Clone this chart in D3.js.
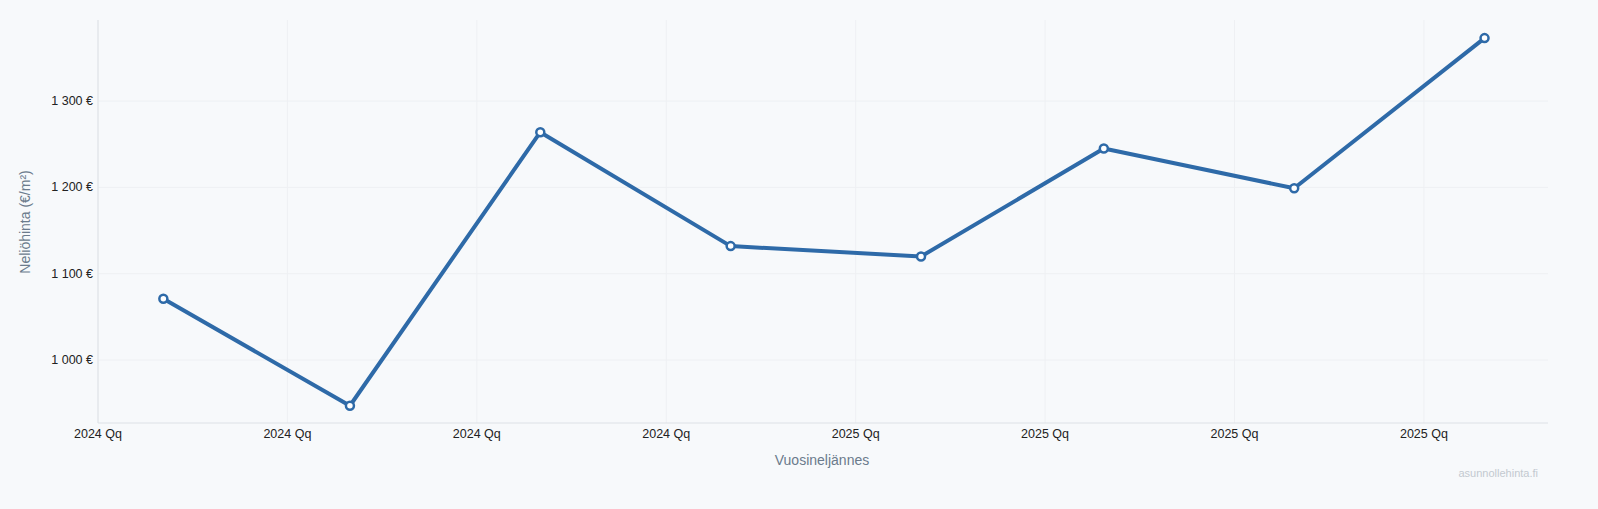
<!DOCTYPE html><html><head><meta charset="utf-8">
<script src="https://cdn.jsdelivr.net/npm/d3@7"></script>
<style>html,body{margin:0;overflow:hidden;background:#f7f9fb;font-family:"Liberation Sans",Arial,sans-serif}svg{display:block}</style></head><body>
<svg id="c" width="1598" height="509"></svg>
<script>
const tickLabels=["2024 Qq","2024 Qq","2024 Qq","2024 Qq","2025 Qq","2025 Qq","2025 Qq","2025 Qq"];
const pointPos=[0.345,1.33,2.335,3.34,4.345,5.31,6.315,7.32];
const values=[1071,947,1264,1132,1120,1245,1199,1373];
const yTicks=[1000,1100,1200,1300];
const svg=d3.select("#c");
svg.append("rect").attr("width",1598).attr("height",509).attr("fill","#f7f9fb");
const L=98,R=1548,T=20,B=423;
const x=d3.scaleLinear().domain([0,7.655]).range([L,R]);
const y=d3.scaleLinear().domain([927,1394]).range([B,T]);
const g=svg.append("g");
g.selectAll(".gy").data(yTicks).join("line").attr("x1",L).attr("x2",R).attr("y1",d=>y(d)).attr("y2",d=>y(d)).attr("stroke","#eef0f3");
g.selectAll(".gx").data(d3.range(8)).join("line").attr("x1",d=>x(d)).attr("x2",d=>x(d)).attr("y1",T).attr("y2",B).attr("stroke","#eef0f3");
g.append("line").attr("x1",L).attr("x2",L).attr("y1",T).attr("y2",B).attr("stroke","#dde1e6");
g.append("line").attr("x1",L).attr("x2",R).attr("y1",B).attr("y2",B).attr("stroke","#dde1e6");
g.selectAll(".yl").data(yTicks).join("text").attr("x",L-5).attr("y",d=>y(d)+4).attr("text-anchor","end").attr("font-size",12.5).attr("fill","#222").text(d=>d3.format(",")(d).replace(","," ")+" €");
g.selectAll(".xl").data(tickLabels).join("text").attr("x",(d,i)=>x(i)).attr("y",438).attr("text-anchor","middle").attr("font-size",12.5).attr("fill","#222").text(d=>d);
svg.append("text").attr("x",822).attr("y",465).attr("text-anchor","middle").attr("font-size",14).attr("fill","#6b7b8c").text("Vuosineljännes");
svg.append("text").attr("transform","translate(30,222) rotate(-90)").attr("text-anchor","middle").attr("font-size",14).attr("fill","#6b7b8c").text("Neliöhinta (€/m²)");
svg.append("text").attr("x",1538).attr("y",477).attr("text-anchor","end").attr("font-size",11).attr("fill","#c3c9d0").text("asunnollehinta.fi");
const data=values.map((v,i)=>({x:pointPos[i],v}));
svg.append("path").datum(data).attr("fill","none").attr("stroke","#2e6aa8").attr("stroke-width",4).attr("stroke-linejoin","round")
 .attr("d",d3.line().x(d=>x(d.x)).y(d=>y(d.v)));
svg.selectAll(".pt").data(data).join("circle").attr("cx",d=>x(d.x)).attr("cy",d=>y(d.v)).attr("r",4).attr("fill","#fff").attr("stroke","#2e6aa8").attr("stroke-width",2.5);
</script></body></html>
